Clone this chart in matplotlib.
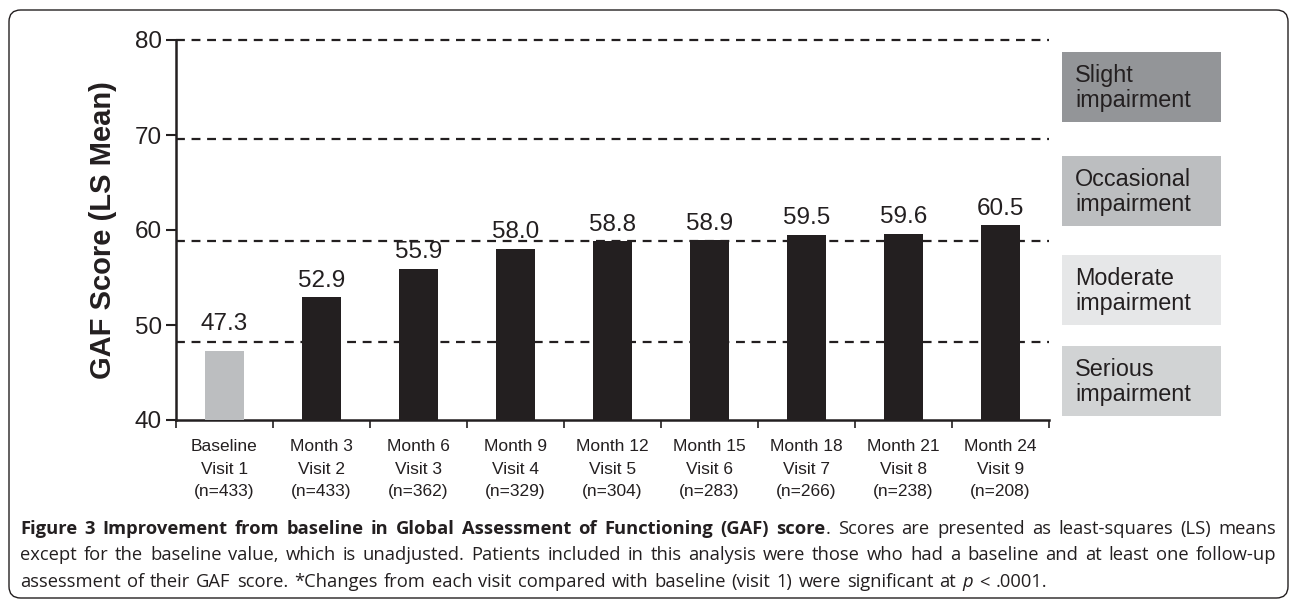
import matplotlib
matplotlib.use("Agg")
import matplotlib.pyplot as plt
from matplotlib.patches import FancyBboxPatch, Rectangle

# data
visits = ["Baseline\nVisit 1\n(n=433)", "Month 3\nVisit 2\n(n=433)", "Month 6\nVisit 3\n(n=362)",
          "Month 9\nVisit 4\n(n=329)", "Month 12\nVisit 5\n(n=304)", "Month 15\nVisit 6\n(n=283)",
          "Month 18\nVisit 7\n(n=266)", "Month 21\nVisit 8\n(n=238)", "Month 24\nVisit 9\n(n=208)"]
scores = [47.3, 52.9, 55.9, 58.0, 58.8, 58.9, 59.5, 59.6, 60.5]
zone_lines = [80, 69.6, 58.8, 48.2]
zone_names = ["Slight\nimpairment", "Occasional\nimpairment", "Moderate\nimpairment", "Serious\nimpairment"]
zone_colors = ["#939598", "#bcbec0", "#e6e7e8", "#d1d3d4"]

W, H = 1292, 601
plt.rcParams['font.family'] = ['Liberation Sans', 'DejaVu Sans']
fig = plt.figure(figsize=(W / 100, H / 100), dpi=100)

# rounded frame around figure + caption
frame = FancyBboxPatch((9 / W, 3 / H), 1279 / W, 588 / H, boxstyle="round,pad=0,rounding_size=0.009",
                       transform=fig.transFigure, fill=False, edgecolor="#231f20", linewidth=1.0,
                       mutation_aspect=W / H)
fig.patches.append(frame)

ax = fig.add_axes([176 / W, 181 / H, (1049 - 176) / W, 380 / H])
x = list(range(len(scores)))
colors = ["#bcbec0"] + ["#231f20"] * (len(scores) - 1)
ax.bar(x, scores, width=0.4, color=colors, zorder=3)

for y in zone_lines:
    ax.axhline(y, color="#231f20", linewidth=1.6, linestyle=(0, (4, 3)), zorder=1, clip_on=False)

for i, v in enumerate(scores):
    off = 11 if i == 0 else 4
    ax.annotate(f"{v:.1f}", (i, v), xytext=(0, off), textcoords="offset points",
                ha="center", va="bottom", fontsize=17.5, color="#231f20")

ax.set_xlim(-0.5, len(scores) - 0.5)
ax.set_ylim(40, 80)
ax.set_yticks([40, 50, 60, 70, 80])
ax.tick_params(axis="y", labelsize=17.5, length=7, width=1.5, color="#231f20", labelcolor="#231f20", pad=3)
ax.set_xticks([i - 0.5 for i in range(len(scores) + 1)])
ax.set_xticklabels([])
ax.set_xticks(x, minor=True)
ax.set_xticklabels(visits, minor=True, fontsize=12.5, color="#231f20", linespacing=1.62)
ax.tick_params(axis="x", which="major", length=6, width=1.2, color="#231f20")
ax.tick_params(axis="x", which="minor", length=0, pad=14)
for s in ["top", "right"]:
    ax.spines[s].set_visible(False)
for s in ["left", "bottom"]:
    ax.spines[s].set_linewidth(1.8)
    ax.spines[s].set_color("#231f20")
ax.set_ylabel("GAF Score (LS Mean)", fontsize=21, fontweight="bold", color="#231f20", labelpad=13)

# impairment boxes on the right
box_tops = [52, 156, 255, 346]
for top, name, c in zip(box_tops, zone_names, zone_colors):
    fig.patches.append(Rectangle((1062 / W, 1 - (top + 70) / H), 159 / W, 70 / H,
                                 transform=fig.transFigure, facecolor=c, edgecolor="none"))
    fig.text(1075 / W, 1 - (top + 36) / H, name, fontsize=16.8, color="#231f20",
             ha="left", va="center", linespacing=1.15)

# caption, justified to the widths seen in the reference
cap_font = ['Open Sans', 'DejaVu Sans']
cap_size = 13.2
lines = [
    ([("Figure 3 Improvement from baseline in Global Assessment of Functioning (GAF) score", "bold", "normal"),
      (". Scores are presented as least-squares (LS) means", "normal", "normal")], 1276),
    ([("except for the baseline value, which is unadjusted. Patients included in this analysis were those who had a baseline and at least one follow-up", "normal", "normal")], 1276),
    ([("assessment of their GAF score. *Changes from each visit compared with baseline (visit 1) were significant at", "normal", "normal"),
      ("p", "normal", "italic"), ("< .0001.", "normal", "normal")], 1047),
]
line_y = [529, 555, 582]
x0 = 20
renderer = fig.canvas.get_renderer()

for (segs, x1), ly in zip(lines, line_y):
    words = []
    for txt, wt, st in segs:
        for j, p in enumerate(txt.split(" ")):
            # leading punctuation sticks to the previous word
            words.append((p, wt, st, j == 0 and p.startswith(".")))
    items = []
    for p, wt, st, glue in words:
        t = fig.text(0, 1 - ly / H, p, fontsize=cap_size, fontweight=wt, fontstyle=st,
                     family=cap_font, color="#231f20", ha="left", va="center")
        w = t.get_window_extent(renderer).width
        items.append((t, w, glue))
    total = sum(w for _, w, _ in items)
    ngaps = sum(1 for k, (_, _, g) in enumerate(items) if k > 0 and not g)
    gap = (x1 - x0 - total) / ngaps
    cx = x0
    for k, (t, w, g) in enumerate(items):
        if k > 0 and not g:
            cx += gap
        t.set_x(cx / W)
        cx += w

fig.savefig("out.png", dpi=100, facecolor="white")
